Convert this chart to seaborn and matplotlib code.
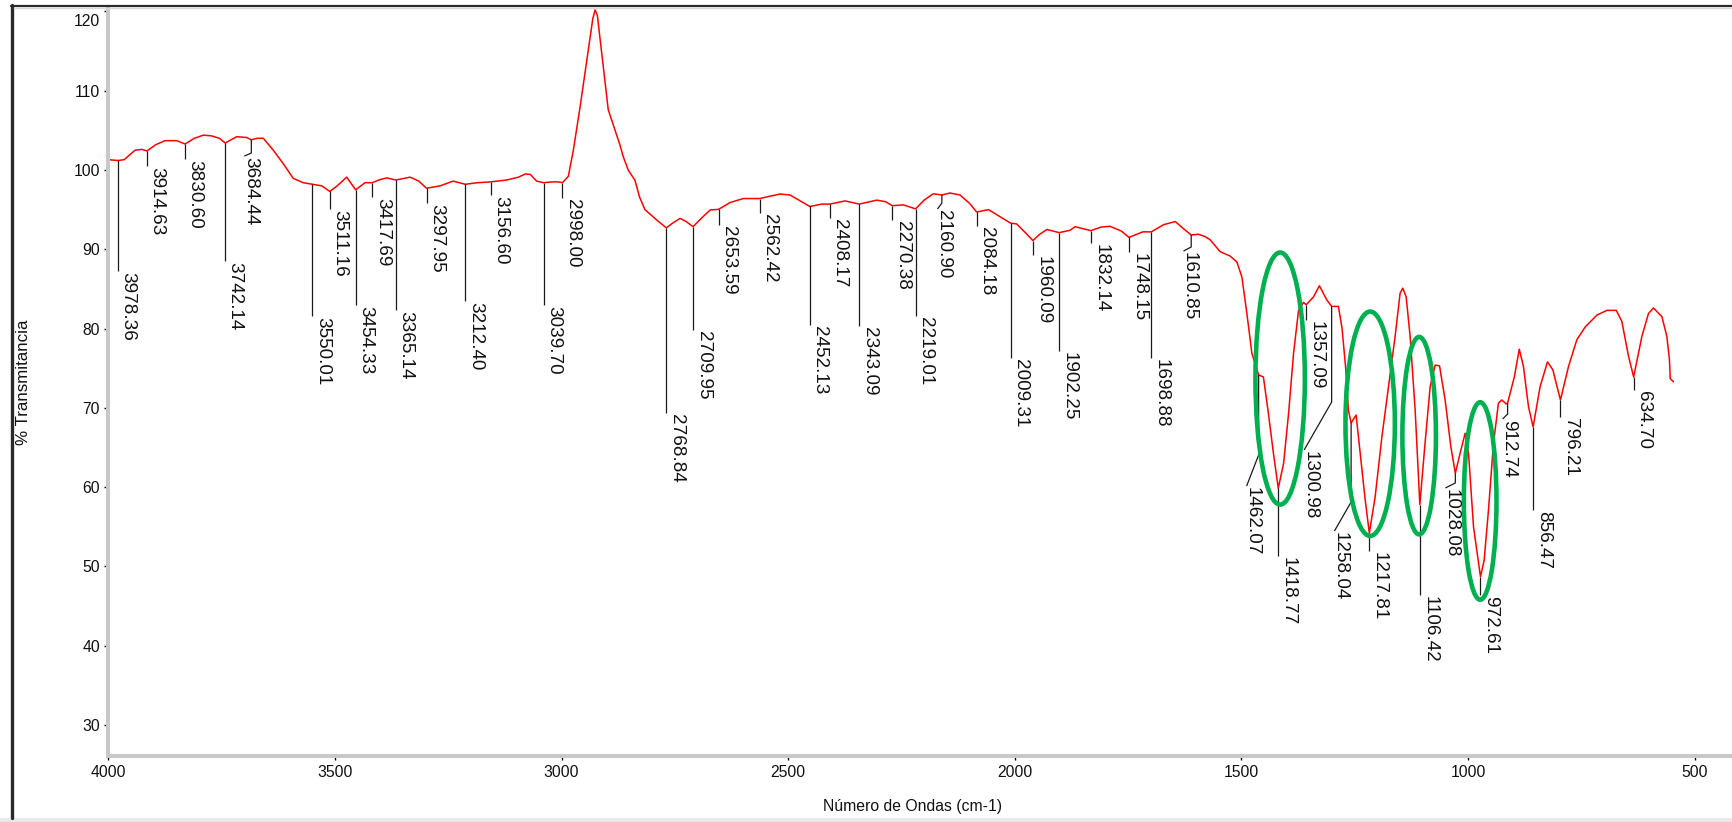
import numpy as np
import matplotlib
matplotlib.use("Agg")
import matplotlib.pyplot as plt
import matplotlib.transforms as mtransforms
from matplotlib.patches import Ellipse, Rectangle
from matplotlib.lines import Line2D
from matplotlib.ticker import MultipleLocator
import seaborn as sns

# IR spectrum: wavenumber (cm-1) and % transmittance
wavenumber = [
    4000, 3992, 3978.36, 3965, 3941, 3926, 3914.63, 3895, 3875, 3849, 3830.60, 3810,
    3790, 3772, 3755, 3742.14, 3716.7, 3694.6, 3684.44, 3672, 3658, 3636, 3614, 3592,
    3570, 3550.01, 3529, 3511.16, 3495, 3474, 3454.33, 3433.6, 3417.69, 3400, 3385.7,
    3365.14, 3334, 3315, 3297.95, 3268, 3239, 3212.40, 3185, 3156.60, 3121, 3095, 3080,
    3069, 3055, 3039.70, 3020, 3007, 2998.00, 2985, 2974, 2959, 2944, 2931, 2926, 2921,
    2908, 2897, 2882, 2872, 2864, 2853, 2838, 2828, 2816, 2800, 2790, 2768.84, 2755,
    2738.5, 2725, 2709.95, 2690, 2672, 2653.59, 2628, 2599, 2580, 2562.42, 2540, 2518,
    2496, 2470, 2452.13, 2426, 2408.17, 2374.5, 2343.09, 2304.5, 2285, 2270.38, 2246,
    2219.01, 2200, 2180, 2160.90, 2143, 2121, 2100, 2084.18, 2058, 2035, 2009.31, 1996,
    1975, 1960.09, 1945, 1929, 1902.25, 1878, 1867, 1850, 1832.14, 1810, 1790, 1765,
    1748.15, 1717.6, 1698.88, 1672, 1646, 1630, 1610.85, 1595, 1580, 1569, 1547, 1525,
    1510, 1499, 1488, 1477, 1462.07, 1451.5, 1440.5, 1429.5, 1418.77, 1407, 1396, 1385,
    1374, 1363, 1357.09, 1341, 1328, 1311.5, 1300.98, 1286, 1278, 1270, 1264, 1258.04,
    1247, 1238, 1227, 1217.81, 1205, 1190, 1175.5, 1161, 1150, 1144, 1136.6, 1127.8,
    1116.7, 1106.42, 1095, 1083.6, 1072.6, 1063, 1050.6, 1038, 1028.08, 1017.5, 1006.4,
    999, 988, 972.61, 964.5, 955, 944, 933, 925.5, 916, 912.74, 898, 887, 877.8, 866.7,
    856.47, 841, 824.8, 813, 796.21, 778.5, 760, 741.6, 715.8, 693.7, 673, 660.7, 646,
    634.70, 616.6, 602, 591, 572.3, 561.4, 555.6, 554, 547,
]
transmittance = [
    101.3, 101.26, 101.2, 101.3, 102.5, 102.6, 102.4, 103.2, 103.7, 103.7, 103.28, 104.0,
    104.4, 104.3, 104.0, 103.4, 104.2, 104.1, 103.8, 104.0, 104.0, 102.5, 100.8, 98.95,
    98.4, 98.2, 98.0, 97.3, 98.0, 99.1, 97.5, 98.4, 98.4, 98.8, 99.0,
    98.74, 99.1, 98.6, 97.7, 98.0, 98.6, 98.2, 98.4, 98.5, 98.74, 99.1, 99.5,
    99.45, 98.6, 98.4, 98.5, 98.5, 98.4, 99.2, 102.5, 108.0, 113.9, 119.1, 120.2, 119.5,
    113.0, 107.6, 105.0, 103.3, 101.7, 100.0, 98.7, 96.6, 95.0, 94.2, 93.7, 92.7, 93.3,
    93.9, 93.5, 92.85, 94.0, 94.96, 95.04, 95.9, 96.4, 96.4, 96.4, 96.7, 96.97,
    96.85, 96.0, 95.4, 95.7, 95.7, 96.1, 95.7, 96.2, 96.0, 95.5, 95.6,
    95.1, 96.2, 97.0, 96.85, 97.1, 96.85, 95.8, 94.7, 95.0, 94.2, 93.3, 93.2,
    92.0, 91.1, 91.9, 92.5, 92.1, 92.4, 92.85, 92.6, 92.35, 92.8, 92.9, 92.3,
    91.5, 92.2, 92.2, 93.1, 93.5, 92.7, 91.8, 91.9, 91.6, 91.2, 89.7, 89.15,
    88.4, 86.5, 81.9, 76.9, 74.15, 73.9, 69.3, 64.3, 59.86, 63.0, 69.3, 76.9,
    82.3, 83.3, 83.0, 84.0, 85.4, 83.6, 82.8, 82.8, 80.0, 75.0, 69.7, 68.1,
    69.1, 64.3, 58.4, 54.2, 58.8, 66.4, 72.7, 79.0, 84.45, 85.1, 84.0, 79.0,
    69.7, 57.8, 65.5, 72.7, 75.4, 75.3, 71.0, 65.1, 61.75, 64.3, 66.8,
    64.3, 55.0, 48.7, 50.8, 57.1, 65.5, 70.6, 71.0, 70.5, 70.6, 73.9, 77.4, 75.2, 70.15,
    67.6, 72.7, 75.8, 74.8, 71.0, 75.2, 78.6, 80.2, 81.7, 82.3, 82.3, 80.9, 76.5,
    73.9, 79.0, 81.9, 82.6, 81.5, 79.0, 76.0, 73.7, 73.3,
]

# Picked bands
peak_wavenumbers = [
    3978.36, 3914.63, 3830.60, 3742.14, 3684.44, 3550.01, 3511.16, 3454.33, 3417.69,
    3365.14, 3297.95, 3212.40, 3156.60, 3039.70, 2998.00, 2768.84, 2709.95, 2653.59,
    2562.42, 2452.13, 2408.17, 2343.09, 2270.38, 2219.01, 2160.90, 2084.18, 2009.31,
    1960.09, 1902.25, 1832.14, 1748.15, 1698.88, 1610.85, 1462.07, 1418.77, 1357.09,
    1300.98, 1258.04, 1217.81, 1106.42, 1028.08, 972.61, 912.74, 856.47, 796.21, 634.70,
]
# %T level at which each band label starts (labels are staggered)
label_top = [
    87.01, 100.25, 101.13, 88.27, 101.51, 81.34, 94.83, 82.72, 96.34,
    82.09, 95.59, 83.23, 96.60, 82.72, 96.22, 69.10, 79.57, 92.81,
    94.33, 80.20, 93.69, 80.08, 93.44, 81.34, 94.83, 92.69, 76.04,
    89.03, 76.92, 90.54, 89.41, 76.04, 89.53, 59.90, 51.07, 80.83,
    64.44, 54.22, 51.70, 46.15, 59.65, 46.15, 68.35, 56.87, 68.60, 72.01,
]
# Leaders that bend aside: band -> (%T of the bend, shift of the label in cm-1)
leader_bends = {
    3684.44: (102.14, 15.4),
    2160.90: (95.84, 9.7),
    1610.85: (90.29, 17.0),
    1462.07: (64.06, 26.5),
    1300.98: (70.74, 60.7),
    1258.04: (58.13, 36.8),
    1028.08: (60.53, 22.0),
    912.74: (69.23, 11.0),
}

# Highlighted bands (ellipses)
highlight_center_wn = [1414.6, 1216.0, 1107.9, 973.3]
highlight_center_t = [73.7, 68.0, 66.5, 58.26]
highlight_width_wn = [109, 109, 74, 72]
highlight_height_t = [31.8, 28.3, 24.9, 24.9]

W, H, DPI = 1733, 822, 100

sns.set_theme(style="white")
plt.rcParams["font.family"] = ["Liberation Sans", "DejaVu Sans"]

fig = plt.figure(figsize=(W / DPI, H / DPI), dpi=DPI)
fig.patch.set_facecolor("white")
ax = fig.add_axes([108.3 / W, 66 / H, (W - 108.3) / W, 748 / H])
ax.set_facecolor("white")

sns.lineplot(x=wavenumber, y=transmittance, ax=ax, color="#ff0000",
             linewidth=1.1, sort=False, estimator=None)

ax.set_xlim(4000, 415.5)
ax.set_ylim(26.10, 120.43)

# band leaders and labels
straight_tr = mtransforms.offset_copy(ax.transData, fig=fig, x=1.5, y=1, units="dots")
bent_tr = mtransforms.offset_copy(ax.transData, fig=fig, x=-2.5, y=1, units="dots")
for wn, top in zip(peak_wavenumbers, label_top):
    t0 = float(np.interp(wn, wavenumber[::-1], transmittance[::-1]))
    end_t = top + 0.25
    if wn in leader_bends:
        bend_t, shift = leader_bends[wn]
        xs = [wn, wn, wn + shift]
        ys = [t0, bend_t, end_t]
        lx = wn + shift
        tr = bent_tr
    else:
        xs = [wn, wn]
        ys = [t0, end_t]
        lx = wn
        tr = straight_tr
    ax.plot(xs, ys, color="#1a1a1a", linewidth=0.9, solid_capstyle="butt", zorder=3)
    ax.text(lx, top, f"{wn:.2f}", rotation=270, ha="left", va="top",
            fontsize=13.6, color="#111111", transform=tr, zorder=6)

for cx, cy, ew, eh in zip(highlight_center_wn, highlight_center_t,
                          highlight_width_wn, highlight_height_t):
    ax.add_patch(Ellipse((cx, cy), ew, eh, fill=False, edgecolor="#00b050",
                         linewidth=3.3, zorder=5))

# axes styling
for side in ("top", "right"):
    ax.spines[side].set_visible(False)
for side in ("left", "bottom"):
    ax.spines[side].set_color("#c8c8c8")
    ax.spines[side].set_linewidth(2.9)

ax.xaxis.set_major_locator(MultipleLocator(500))
ax.xaxis.set_minor_locator(MultipleLocator(100))
ax.yaxis.set_minor_locator(MultipleLocator(2))
ax.set_yticks(np.arange(30, 121, 10))
ax.tick_params(axis="both", which="major", direction="out", length=3, width=1.0,
               color="black", labelsize=11.3, labelcolor="#111111")
ax.tick_params(axis="x", which="major", pad=3.5)
ax.tick_params(axis="y", which="major", pad=3)
ax.tick_params(axis="both", which="minor", direction="in", length=1.2, width=1.6,
               color="black")
ax.tick_params(bottom=True, left=True, which="both")
ax.grid(False)

# the top tick label sits a little below its tick, inside the frame
fig.canvas.draw()
for lab in ax.get_yticklabels():
    if lab.get_text() == "120":
        lab.set_transform(lab.get_transform()
                          + mtransforms.ScaledTranslation(0, -9 / DPI, fig.dpi_scale_trans))

ax.set_xlabel("Número de Ondas (cm-1)", fontsize=11.3, color="#111111")
ax.set_ylabel("% Transmitancia", fontsize=12.2, color="#111111")
ax.xaxis.set_label_coords(0.4947, -0.057)
ax.yaxis.set_label_coords(-0.0475, 0.5)

# window frame around the plot
fig.add_artist(Line2D([12.5 / W, 12.5 / W], [4 / H, (H - 5) / H],
                      transform=fig.transFigure, color="#2a2a2a", linewidth=2.4))
fig.add_artist(Line2D([11 / W, 1.0], [(H - 6) / H, (H - 6) / H],
                      transform=fig.transFigure, color="#2a2a2a", linewidth=1.6))
fig.add_artist(Line2D([14 / W, 1.0], [(H - 8) / H, (H - 8) / H],
                      transform=fig.transFigure, color="#d8d8d8", linewidth=1.0))
fig.add_artist(Rectangle((0, 0), 1, 4 / H, transform=fig.transFigure,
                         facecolor="#e8e8e8", edgecolor="none"))

fig.savefig("out.png", dpi=DPI)
